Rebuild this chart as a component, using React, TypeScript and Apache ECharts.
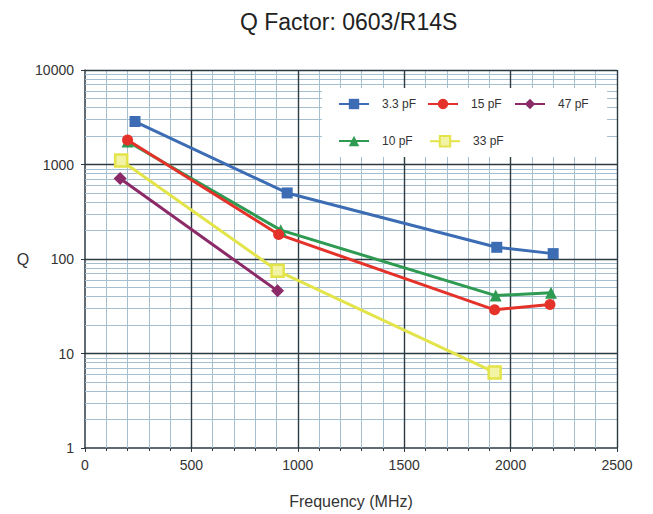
import React, { useEffect, useRef } from "react";
import * as echarts from "echarts";

const seriesNames = ["3.3 pF", "10 pF", "15 pF", "33 pF", "47 pF"];
const freq3p3 = [235, 950, 1935, 2200];
const q3p3 = [2850, 500, 133, 114];
const freq10 = [200, 920, 1930, 2190];
const q10 = [1750, 202, 41, 44];
const freq15 = [200, 910, 1925, 2185];
const q15 = [1820, 182, 29, 33];
const freq33 = [170, 905, 1925];
const q33 = [1100, 75, 6.3];
const freq47 = [165, 905];
const q47 = [710, 46];

const xTickLabels = ["0", "500", "1000", "1500", "2000", "2500"];
const yTickLabels = ["1", "10", "100", "1000", "10000"];

const FONT = "'Liberation Sans', Arial, Helvetica, sans-serif";

function pairs(xs: number[], ys: number[]) {
  return xs.map((x, i) => [x, ys[i]]);
}

export default function App() {
  const ref = useRef<HTMLDivElement>(null);
  useEffect(() => {
    if (!ref.current) return;
    const chart = echarts.init(ref.current, undefined, { renderer: "svg" });

    const yMinor: number[] = [];
    for (let k = 0; k < 4; k++) for (let m = 2; m <= 9; m++) yMinor.push(m * Math.pow(10, k));
    const yMajor = [10, 100, 1000, 10000];
    const xMinor: number[] = [];
    for (let v = 100; v < 2500; v += 100) if (v % 500 !== 0) xMinor.push(v);
    const xMajor = [500, 1000, 1500, 2000, 2500];

    const minorStyle = { color: "#a6bfd0", width: 1, type: "solid" as const };
    const majorStyle = { color: "#2c3a42", width: 1.4, type: "solid" as const };

    const colors: Record<string, string> = {
      "3.3 pF": "#3b6cb4",
      "10 pF": "#2e9a52",
      "15 pF": "#e4322a",
      "33 pF": "#e3e44a",
      "47 pF": "#8c2a68",
    };

    const mkSeries = (name: string, xs: number[], ys: number[], symbol: string, size: number, extra: any = {}) => ({
      name,
      type: "line",
      data: pairs(xs, ys),
      symbol,
      symbolSize: size,
      z: 5,
      lineStyle: { color: colors[name], width: 3 },
      itemStyle: { color: colors[name] },
      ...extra,
    });

    const legendPos: [string, number, number][] = [
      ["3.3 pF", 338, 98],
      ["15 pF", 427, 98],
      ["47 pF", 514, 98],
      ["10 pF", 338, 135],
      ["33 pF", 429, 135],
    ];

    chart.setOption({
      animation: false,
      backgroundColor: "#ffffff",
      title: {
        text: "Q Factor: 0603/R14S",
        left: 240,
        top: 10,
        padding: 0,
        textStyle: { fontFamily: FONT, fontSize: 23, fontWeight: "normal", color: "#222" },
      },
      legend: legendPos.map(([name, left, top]) => ({
        data: [name],
        left,
        top,
        padding: 0,
        itemWidth: 30,
        itemHeight: 13,
        selectedMode: false,
        z: 20,
        textStyle: { fontFamily: FONT, fontSize: 12, color: "#333", padding: [0, 0, 0, 8] },
      })),
      graphic: [
        {
          type: "rect",
          shape: { x: 322, y: 88, width: 285, height: 69 },
          style: { fill: "#ffffff" },
          z: 10,
          silent: true,
        },
      ],
      grid: { left: 85, right: 36, top: 70, bottom: 65 },
      xAxis: {
        type: "value",
        min: 0,
        max: 2500,
        interval: 500,
        name: "Frequency (MHz)",
        nameLocation: "middle",
        nameGap: 45,
        nameTextStyle: { fontFamily: FONT, fontSize: 16, color: "#333" },
        axisLine: { show: true, lineStyle: { color: "#2c3a42", width: 1.5 } },
        axisTick: { show: true, length: 4, lineStyle: { color: "#2c3a42" } },
        minorTick: { show: true, splitNumber: 5, length: 3, lineStyle: { color: "#2c3a42" } },
        splitLine: { show: false },
        axisLabel: {
          fontFamily: FONT,
          fontSize: 14,
          color: "#333",
          margin: 10,
          formatter: (v: number) => xTickLabels[Math.round(v / 500)] ?? String(v),
        },
      },
      yAxis: {
        type: "log",
        logBase: 10,
        min: 1,
        max: 10000,
        name: "Q",
        nameLocation: "middle",
        nameRotate: 0,
        nameGap: 50,
        nameTextStyle: { fontFamily: FONT, fontSize: 16, color: "#333" },
        axisLine: { show: true, lineStyle: { color: "#2c3a42", width: 1.5 } },
        axisTick: { show: true, length: 4, lineStyle: { color: "#2c3a42" } },
        splitLine: { show: false },
        axisLabel: {
          fontFamily: FONT,
          fontSize: 14,
          color: "#333",
          margin: 11,
          formatter: (v: number) => yTickLabels[Math.round(Math.log10(v))] ?? String(v),
        },
      },
      series: [
        {
          name: "gridMinor",
          type: "line",
          data: [],
          z: 1,
          silent: true,
          markLine: {
            silent: true,
            symbol: ["none", "none"],
            label: { show: false },
            lineStyle: minorStyle,
            emphasis: { disabled: true },
            data: [...yMinor.map((v) => ({ yAxis: v })), ...xMinor.map((v) => ({ xAxis: v }))],
          },
        },
        {
          name: "gridMajor",
          type: "line",
          data: [],
          z: 2,
          silent: true,
          markLine: {
            silent: true,
            symbol: ["none", "none"],
            label: { show: false },
            lineStyle: majorStyle,
            emphasis: { disabled: true },
            data: [...yMajor.map((v) => ({ yAxis: v })), ...xMajor.map((v) => ({ xAxis: v }))],
          },
        },
        mkSeries("3.3 pF", freq3p3, q3p3, "rect", 11),
        mkSeries("10 pF", freq10, q10, "triangle", 12),
        mkSeries("15 pF", freq15, q15, "circle", 11),
        mkSeries("33 pF", freq33, q33, "rect", 12, {
          itemStyle: { color: "#f3f3a6", borderColor: colors["33 pF"], borderWidth: 2.5 },
        }),
        mkSeries("47 pF", freq47, q47, "diamond", 13),
      ],
    });
    return () => chart.dispose();
  }, []);
  return (
    <div
      ref={ref}
      style={{ position: "fixed", left: 0, top: 0, width: 653, height: 514, background: "#fff" }}
    />
  );
}
